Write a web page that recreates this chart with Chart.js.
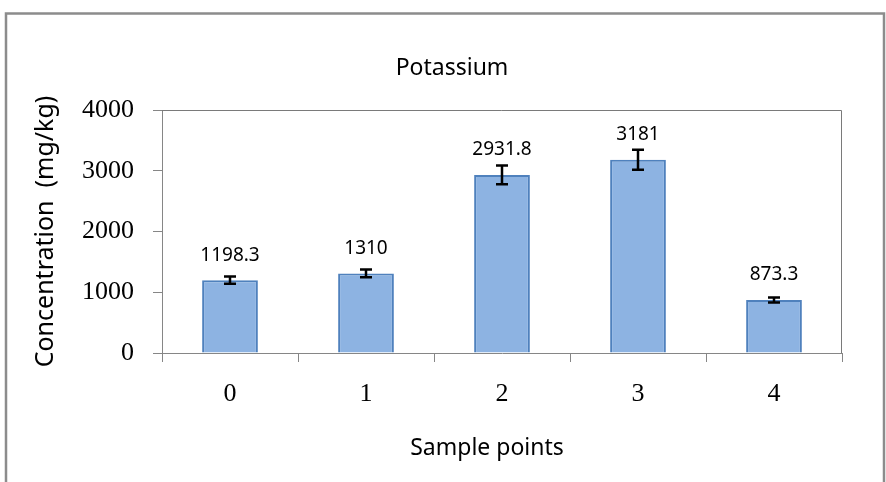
<!DOCTYPE html>
<html>
<head>
<meta charset="utf-8">
<script src="https://cdn.jsdelivr.net/npm/chart.js@4.4.0/dist/chart.umd.min.js"></script>
<style>
    html, body { margin: 0; padding: 0; background: #ffffff; }
    #wrap { width: 886px; height: 482px; position: relative; }
</style>
</head>
<body>
<div id="wrap"><canvas id="grafica"></canvas></div>
<script>
// datos
const categorias = ['0', '1', '2', '3', '4'];
const valores = [1198.3, 1310, 2931.8, 3181, 873.3];
const errores = [60, 65, 155, 165, 42];
const etiquetas = ['1198.3', '1310', '2931.8', '3181', '873.3'];
const ticksY = [0, 1000, 2000, 3000, 4000];
const titulo = 'Potassium';
const tituloX = 'Sample points';
const tituloY = 'Concentration  (mg/kg)';

// marco exterior, titulos y borde del area de trazado
const marco = {
    id: 'marco',
    beforeDraw(chart) {
        const ctx = chart.ctx;
        ctx.save();
        ctx.strokeStyle = '#8c8c8c';
        ctx.lineWidth = 2.5;
        ctx.beginPath();
        ctx.moveTo(6, 482);
        ctx.lineTo(6, 13.5);
        ctx.lineTo(884, 13.5);
        ctx.lineTo(884, 482);
        ctx.stroke();

        ctx.fillStyle = '#000000';
        ctx.textAlign = 'center';
        ctx.textBaseline = 'alphabetic';
        ctx.font = '23px "Noto Sans"';
        ctx.fillText(titulo, 452, 75);
        ctx.font = '23px "Noto Sans"';
        ctx.fillText(tituloX, 487, 455);
        ctx.restore();
    },
    afterDatasetsDraw(chart) {
        const ctx = chart.ctx;
        const a = chart.chartArea;
        ctx.save();
        ctx.strokeStyle = '#7a7a7a';
        ctx.lineWidth = 1;
        ctx.beginPath();
        ctx.moveTo(a.left, a.top + 0.5);
        ctx.lineTo(a.right - 0.5, a.top + 0.5);
        ctx.lineTo(a.right - 0.5, a.bottom);
        ctx.stroke();
        ctx.restore();
    }
};

// barras de error y etiquetas de valor
const barrasError = {
    id: 'barrasError',
    afterDatasetsDraw(chart) {
        const ctx = chart.ctx;
        const y = chart.scales.y;
        const meta = chart.getDatasetMeta(0);
        ctx.save();
        meta.data.forEach((bar, i) => {
            const yTop = y.getPixelForValue(valores[i] + errores[i]);
            const yBot = y.getPixelForValue(valores[i] - errores[i]);
            ctx.strokeStyle = '#000000';
            ctx.lineWidth = 2.5;
            ctx.beginPath();
            ctx.moveTo(bar.x, yTop);
            ctx.lineTo(bar.x, yBot);
            ctx.moveTo(bar.x - 6, yTop);
            ctx.lineTo(bar.x + 6, yTop);
            ctx.moveTo(bar.x - 6, yBot);
            ctx.lineTo(bar.x + 6, yBot);
            ctx.stroke();

            ctx.fillStyle = '#000000';
            ctx.font = '19px "Noto Sans"';
            ctx.textAlign = 'center';
            ctx.textBaseline = 'middle';
            ctx.fillText(etiquetas[i], bar.x, bar.y - 25);
        });
        ctx.restore();
    }
};

const ctx = document.getElementById('grafica').getContext('2d');
new Chart(ctx, {
    type: 'bar',
    data: {
        labels: categorias,
        datasets: [{
            data: valores,
            backgroundColor: '#8db3e2',
            borderColor: '#4f81bd',
            borderWidth: 2,
            categoryPercentage: 1,
            barPercentage: 0.41
        }]
    },
    options: {
        responsive: true,
        maintainAspectRatio: false,
        animation: false,
        layout: { padding: { left: 31, right: 44, top: 110, bottom: 25 } },
        plugins: {
            legend: { display: false },
            tooltip: { enabled: false },
            title: { display: false }
        },
        scales: {
            x: {
                afterFit: (scale) => { scale.height = 104; },
                grid: {
                    offset: true,
                    drawOnChartArea: false,
                    drawTicks: true,
                    tickLength: 9,
                    color: '#868686'
                },
                border: { display: true, color: '#868686', width: 1 },
                ticks: {
                    color: '#000000',
                    padding: 17,
                    font: { family: '"Liberation Serif"', size: 26 }
                }
            },
            y: {
                min: 0,
                max: 4000,
                afterFit: (scale) => { scale.width = 131; },
                afterBuildTicks: (scale) => { scale.ticks = ticksY.map(v => ({ value: v })); },
                grid: {
                    drawOnChartArea: false,
                    drawTicks: true,
                    tickLength: 9,
                    color: '#868686'
                },
                border: { display: true, color: '#868686', width: 1 },
                ticks: {
                    color: '#000000',
                    padding: 19,
                    font: { family: '"Liberation Serif"', size: 26 },
                    callback: (value) => String(value)
                },
                title: {
                    display: true,
                    text: tituloY,
                    color: '#000000',
                    font: { family: '"Noto Sans"', size: 25 },
                    padding: 0
                }
            }
        }
    },
    plugins: [marco, barrasError]
});
</script>
</body>
</html>
